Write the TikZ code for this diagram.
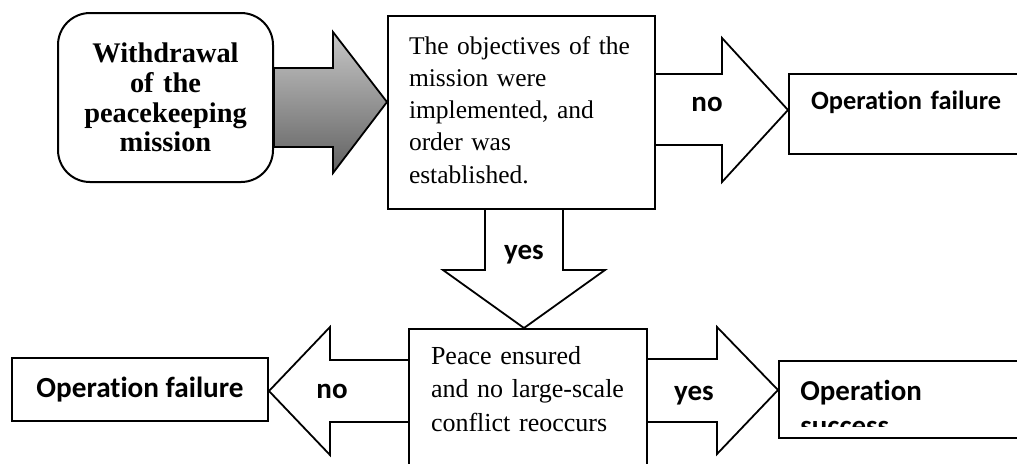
\documentclass[tikz,border=0pt]{standalone}
\usepackage{fontspec}
\setmainfont{Liberation Serif}
\newfontfamily\calibri[Ligatures=NoCommon]{Carlito}

\tikzset{
  box/.style={draw, line width=1pt, inner sep=0pt},
  blk/.style={draw, line width=0.9pt, line join=miter},
  lbl/.style={font=\calibri\bfseries\fontsize{14.5}{17}\selectfont, anchor=base, inner sep=0pt},
}

\begin{document}
\begin{tikzpicture}[x=0.5pt, y=-0.5pt]
  \useasboundingbox (0,0) rectangle (1017,463);
  \clip (0,0) rectangle (1017,463);

  % boxes
  \node[box, rounded corners=16pt, minimum width=107.5pt, minimum height=84.5pt,
        text width=100pt, align=center,
        font=\bfseries\fontsize{14.2}{14.8}\selectfont]
    (withdraw) at (165.5,97.5) {Withdrawal\\of the\\peacekeeping\\mission};
  \node[box, anchor=north west, text width=112.5pt, align=left, inner xsep=10.5pt,
        text height=19pt, text depth=77.5pt, font=\fontsize{12.75}{16.15}\selectfont]
    (obj) at (387,15) {The objectives of the\\mission were\\implemented, and\\order was\\established.};
  \node[box, anchor=north west, text width=125pt, align=left, inner xsep=11pt,
        text height=17.5pt, text depth=22.5pt, font=\calibri\bfseries\fontsize{13.2}{16}\selectfont]
    (fail1) at (788,73) {Operation failure};
  \node[box, minimum width=128pt, minimum height=31.5pt,
        font=\calibri\bfseries\fontsize{14.6}{17}\selectfont]
    (fail2) at (140,389.5) {Operation failure};
  \node[box, anchor=north west, text width=97pt, align=left, inner xsep=11pt,
        text height=17.5pt, text depth=70pt, font=\fontsize{13}{16.75}\selectfont]
    (peace) at (408,328) {Peace ensured\\and no large-scale\\conflict reoccurs};
  \node[box, anchor=north west, minimum width=150pt, minimum height=38.5pt] (succ) at (778,360) {};
  \begin{scope}
    \clip (succ.north west) rectangle (1017,426);
    \node[anchor=base west, text width=120pt, align=left, inner sep=0pt,
          font=\calibri\bfseries\fontsize{14.45}{17.75}\selectfont]
      (succtxt) at (800,400) {Operation\\success};
  \end{scope}

  % block arrows
  \draw[blk, top color=black!22, bottom color=black!62]
    (withdraw.east |- 0,68) -- (333,68) -- (333,32) -- (obj.west |- 0,102)
    -- (333,173) -- (333,147) -- (withdraw.east |- 0,147) -- cycle;
  \draw[blk] (obj.east |- 0,74) -- (722,74) -- (722,38) -- (fail1.west |- 0,110)
    -- (722,182) -- (722,145) -- (obj.east |- 0,145);
  \draw[blk] (485,0 |- obj.south) -- (485,270) -- (443,270) -- (524,0 |- peace.north)
    -- (605,270) -- (563,270) -- (563,0 |- obj.south);
  \draw[blk] (peace.west |- 0,360) -- (330,360) -- (330,327) -- (fail2.east |- 0,391)
    -- (330,455) -- (330,422) -- (peace.west |- 0,422);
  \draw[blk] (peace.east |- 0,359) -- (717,359) -- (717,327) -- (succ.west |- 0,390)
    -- (717,454) -- (717,422) -- (peace.east |- 0,422);

  % labels
  \node[lbl] (noA) at (707,111) {no};
  \node[lbl] (yesA) at (524,259) {yes};
  \node[lbl] (noB) at (332,398) {no};
  \node[lbl] (yesB) at (694,400) {yes};
\end{tikzpicture}
\end{document}
